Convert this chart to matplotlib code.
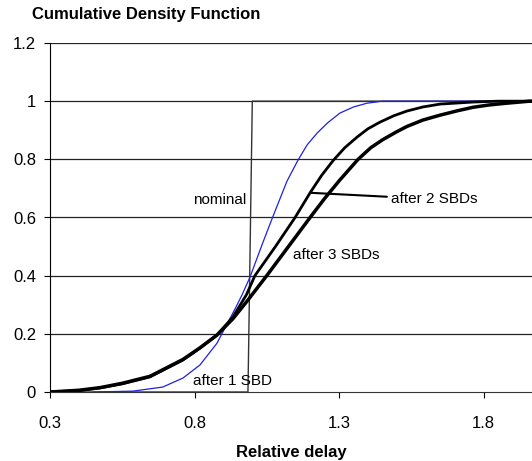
import matplotlib
matplotlib.use('Agg')
import matplotlib.pyplot as plt

plt.rcParams['font.family'] = ['Liberation Sans', 'DejaVu Sans']

# nominal delay: a step at ~1.0
nom_x = [0.3, 0.985, 1.0, 2.0]
nom_y = [0.0, 0.0, 1.0, 1.0]

# after 1 SBD (blue)
sbd1_x = [0.45, 0.587, 0.69, 0.76, 0.819, 0.878, 0.912, 0.94, 0.965, 0.992, 1.037,
          1.07, 1.12, 1.158, 1.19, 1.224, 1.26, 1.303, 1.35, 1.397, 1.45, 2.0]
sbd1_y = [0.0, 0.003, 0.017, 0.048, 0.093, 0.168, 0.233, 0.285, 0.335, 0.395, 0.515,
          0.60, 0.725, 0.797, 0.85, 0.89, 0.925, 0.959, 0.98, 0.993, 1.0, 1.0]

# after 2 SBDs
sbd2_x = [0.3, 0.4, 0.473, 0.55, 0.646, 0.76, 0.819, 0.878, 0.933, 0.98, 1.009,
          1.08, 1.148, 1.2, 1.24, 1.279, 1.32, 1.362, 1.4, 1.442, 1.49, 1.535,
          1.59, 1.65, 1.764, 1.85, 2.0]
sbd2_y = [0.0, 0.005, 0.014, 0.028, 0.052, 0.11, 0.151, 0.196, 0.258, 0.335, 0.40,
          0.50, 0.60, 0.685, 0.745, 0.795, 0.84, 0.876, 0.905, 0.928, 0.95, 0.966,
          0.98, 0.99, 0.997, 1.0, 1.0]

# after 3 SBDs
sbd3_x = [0.3, 0.4, 0.473, 0.55, 0.646, 0.76, 0.819, 0.878, 0.933, 0.98, 1.05,
          1.125, 1.2, 1.25, 1.303, 1.366, 1.41, 1.452, 1.5, 1.535, 1.59, 1.65,
          1.71, 1.764, 1.82, 1.88, 1.96, 2.0]
sbd3_y = [0.0, 0.006, 0.015, 0.03, 0.054, 0.112, 0.152, 0.196, 0.252, 0.31, 0.40,
          0.50, 0.60, 0.665, 0.729, 0.80, 0.84, 0.868, 0.895, 0.913, 0.935, 0.952,
          0.967, 0.979, 0.987, 0.993, 1.0, 1.0]

xticks = [0.3, 0.8, 1.3, 1.8]
yticks = [0, 0.2, 0.4, 0.6, 0.8, 1.0, 1.2]
ytick_labels = ['0', '0.2', '0.4', '0.6', '0.8', '1', '1.2']

fig = plt.figure(figsize=(5.32, 4.61), dpi=100)
ax = fig.add_axes([50 / 532, 1 - 392 / 461, 482 / 532, 349 / 461])

for y in yticks[1:]:
    ax.axhline(y, color='#222222', lw=0.9, zorder=1)

ax.plot(nom_x, nom_y, color='#333333', lw=1.0, zorder=2)
ax.plot(sbd1_x, sbd1_y, color='#2020e0', lw=0.9, zorder=3)
ax.plot(sbd2_x, sbd2_y, color='black', lw=2.0, zorder=4)
ax.plot(sbd3_x, sbd3_y, color='black', lw=2.5, zorder=4)

ax.set_xlim(0.3, 0.3 + 482 / 289)
ax.set_ylim(0, 1.2)
ax.set_xticks(xticks)
ax.set_xticklabels(['0.3', '0.8', '1.3', '1.8'])
ax.set_yticks(yticks)
ax.set_yticklabels(ytick_labels)
ax.tick_params(axis='both', labelsize=12, direction='out', length=4, width=0.8, pad=6)
ax.tick_params(axis='x', pad=13)

for s in ['top', 'right']:
    ax.spines[s].set_visible(False)
ax.spines['left'].set_color('black')
ax.spines['bottom'].set_color('#333333')

ax.text(0.795, 0.66, 'nominal', fontsize=11, ha='left', va='center')
ax.text(1.141, 0.471, 'after 3 SBDs', fontsize=11, ha='left', va='center')
ax.text(0.795, 0.038, 'after 1 SBD', fontsize=11, ha='left', va='center')
ax.annotate('after 2 SBDs', xy=(1.2, 0.685), xytext=(1.48, 0.663),
            fontsize=11, ha='left', va='center',
            arrowprops=dict(arrowstyle='-', color='black', lw=1.5,
                            shrinkA=1, shrinkB=0))

fig.text(32 / 532, 1 - 14 / 461, 'Cumulative Density Function', fontsize=12,
         fontweight='bold', ha='left', va='center')
ax.set_xlabel('Relative delay', fontsize=12, fontweight='bold', labelpad=10)

fig.savefig('out.png', dpi=100)
